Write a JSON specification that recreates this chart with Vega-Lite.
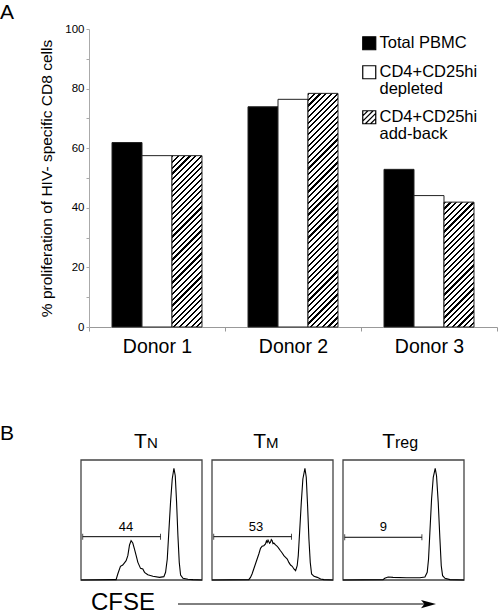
{
  "$schema": "https://vega.github.io/schema/vega-lite/v6.json",
  "padding": {"left": 0, "top": 2, "right": 0, "bottom": 0},
  "config": {
    "font": "Liberation Sans",
    "view": {"stroke": null},
    "axis": {"labelColor": "#000", "titleColor": "#000"},
    "title": {"color": "#000"},
    "legend": {"labelColor": "#000"}
  },
  "datasets": {
    "bars": [
      {"donor": "Donor 1", "series": "Total PBMC", "value": 61.9},
      {"donor": "Donor 1", "series": "CD4+CD25hi depleted", "value": 57.5},
      {"donor": "Donor 1", "series": "CD4+CD25hi add-back", "value": 57.5},
      {"donor": "Donor 2", "series": "Total PBMC", "value": 73.9},
      {"donor": "Donor 2", "series": "CD4+CD25hi depleted", "value": 76.4},
      {"donor": "Donor 2", "series": "CD4+CD25hi add-back", "value": 78.4},
      {"donor": "Donor 3", "series": "Total PBMC", "value": 52.9},
      {"donor": "Donor 3", "series": "CD4+CD25hi depleted", "value": 44.1},
      {"donor": "Donor 3", "series": "CD4+CD25hi add-back", "value": 41.9}
    ],
    "hist": [
      {"panel": "TN", "x": 0, "y": 0}, {"panel": "TN", "x": 27.6, "y": 0.3}, {"panel": "TN", "x": 29.0, "y": 0.3}, {"panel": "TN", "x": 30.4, "y": 5}, {"panel": "TN", "x": 32.6, "y": 11.4}, {"panel": "TN", "x": 34.5, "y": 12.5}, {"panel": "TN", "x": 37.3, "y": 16.1}, {"panel": "TN", "x": 38.7, "y": 20.3}, {"panel": "TN", "x": 40.1, "y": 29.2}, {"panel": "TN", "x": 41.4, "y": 32.8}, {"panel": "TN", "x": 42.8, "y": 30.8}, {"panel": "TN", "x": 44.2, "y": 25.8}, {"panel": "TN", "x": 45.6, "y": 20.3}, {"panel": "TN", "x": 47.0, "y": 14.7}, {"panel": "TN", "x": 49.2, "y": 9.7}, {"panel": "TN", "x": 51.1, "y": 9.2}, {"panel": "TN", "x": 52.5, "y": 6.4}, {"panel": "TN", "x": 55.2, "y": 4.4}, {"panel": "TN", "x": 59.4, "y": 3.1}, {"panel": "TN", "x": 64.9, "y": 2.2}, {"panel": "TN", "x": 68.5, "y": 2.8}, {"panel": "TN", "x": 69.9, "y": 6.4}, {"panel": "TN", "x": 71.3, "y": 17.5}, {"panel": "TN", "x": 72.4, "y": 36.9}, {"panel": "TN", "x": 74.0, "y": 64.7}, {"panel": "TN", "x": 75.4, "y": 84.2}, {"panel": "TN", "x": 76.8, "y": 93.1}, {"panel": "TN", "x": 77.9, "y": 86.9}, {"panel": "TN", "x": 79.0, "y": 64.7}, {"panel": "TN", "x": 80.1, "y": 36.9}, {"panel": "TN", "x": 81.2, "y": 14.7}, {"panel": "TN", "x": 82.3, "y": 4.2}, {"panel": "TN", "x": 84.3, "y": 1.4}, {"panel": "TN", "x": 88.4, "y": 0.6}, {"panel": "TN", "x": 92.5, "y": 0.3}, {"panel": "TN", "x": 100, "y": 0},
      {"panel": "TM", "x": 0, "y": 0}, {"panel": "TM", "x": 30.4, "y": 0.3}, {"panel": "TM", "x": 31.8, "y": 2.2}, {"panel": "TM", "x": 33.1, "y": 5}, {"panel": "TM", "x": 34.5, "y": 9.2}, {"panel": "TM", "x": 35.9, "y": 13.3}, {"panel": "TM", "x": 37.3, "y": 17.5}, {"panel": "TM", "x": 38.7, "y": 21.7}, {"panel": "TM", "x": 40.1, "y": 26.4}, {"panel": "TM", "x": 41.4, "y": 28.1}, {"panel": "TM", "x": 42.8, "y": 28.6}, {"panel": "TM", "x": 44.2, "y": 30}, {"panel": "TM", "x": 45.0, "y": 32.5}, {"panel": "TM", "x": 45.6, "y": 31.4}, {"panel": "TM", "x": 46.3, "y": 33.3}, {"panel": "TM", "x": 47.0, "y": 31.9}, {"panel": "TM", "x": 47.6, "y": 30.6}, {"panel": "TM", "x": 48.3, "y": 31.4}, {"panel": "TM", "x": 49.0, "y": 33.6}, {"panel": "TM", "x": 49.7, "y": 32.8}, {"panel": "TM", "x": 50.4, "y": 30.3}, {"panel": "TM", "x": 51.1, "y": 30.8}, {"panel": "TM", "x": 52.5, "y": 29.2}, {"panel": "TM", "x": 53.9, "y": 28.1}, {"panel": "TM", "x": 55.2, "y": 26.4}, {"panel": "TM", "x": 56.6, "y": 24.4}, {"panel": "TM", "x": 58.0, "y": 22.5}, {"panel": "TM", "x": 59.4, "y": 20.3}, {"panel": "TM", "x": 60.8, "y": 18.9}, {"panel": "TM", "x": 62.2, "y": 17.5}, {"panel": "TM", "x": 63.5, "y": 14.7}, {"panel": "TM", "x": 64.9, "y": 12.5}, {"panel": "TM", "x": 66.3, "y": 11.4}, {"panel": "TM", "x": 67.7, "y": 9.2}, {"panel": "TM", "x": 69.1, "y": 7.8}, {"panel": "TM", "x": 70.4, "y": 11.9}, {"panel": "TM", "x": 71.3, "y": 20.3}, {"panel": "TM", "x": 72.4, "y": 39.7}, {"panel": "TM", "x": 73.8, "y": 64.7}, {"panel": "TM", "x": 75.1, "y": 84.2}, {"panel": "TM", "x": 76.8, "y": 93.1}, {"panel": "TM", "x": 77.9, "y": 85.6}, {"panel": "TM", "x": 79.0, "y": 61.9}, {"panel": "TM", "x": 80.1, "y": 34.2}, {"panel": "TM", "x": 81.2, "y": 14.7}, {"panel": "TM", "x": 82.3, "y": 5}, {"panel": "TM", "x": 84.3, "y": 3.1}, {"panel": "TM", "x": 87.0, "y": 2.2}, {"panel": "TM", "x": 89.8, "y": 0.8}, {"panel": "TM", "x": 92.5, "y": 0.3}, {"panel": "TM", "x": 100, "y": 0},
      {"panel": "Treg", "x": 0, "y": 0}, {"panel": "Treg", "x": 33.1, "y": 0.3}, {"panel": "Treg", "x": 34.5, "y": 1.4}, {"panel": "Treg", "x": 37.3, "y": 2.5}, {"panel": "Treg", "x": 41.4, "y": 2.2}, {"panel": "Treg", "x": 52.5, "y": 1.9}, {"panel": "Treg", "x": 63.5, "y": 1.9}, {"panel": "Treg", "x": 67.7, "y": 2.5}, {"panel": "Treg", "x": 69.6, "y": 6.4}, {"panel": "Treg", "x": 70.7, "y": 17.5}, {"panel": "Treg", "x": 71.8, "y": 39.7}, {"panel": "Treg", "x": 73.2, "y": 67.5}, {"panel": "Treg", "x": 74.6, "y": 85.6}, {"panel": "Treg", "x": 76.2, "y": 93.1}, {"panel": "Treg", "x": 77.3, "y": 86.9}, {"panel": "Treg", "x": 78.7, "y": 64.7}, {"panel": "Treg", "x": 80.1, "y": 34.2}, {"panel": "Treg", "x": 81.2, "y": 11.9}, {"panel": "Treg", "x": 82.3, "y": 3.6}, {"panel": "Treg", "x": 84.3, "y": 1.4}, {"panel": "Treg", "x": 88.4, "y": 0.3}, {"panel": "Treg", "x": 100, "y": 0}
    ],
    "gates": [
      {"panel": "TN", "x1": 1.4, "x2": 65.7, "gy": 36.1, "pct": "44"},
      {"panel": "TM", "x1": 1.4, "x2": 65.7, "gy": 36.1, "pct": "53"},
      {"panel": "Treg", "x1": 1.4, "x2": 65.2, "gy": 35.6, "pct": "9"}
    ],
    "titles": [
      {"panel": "TN", "main": "T", "sub": "N"},
      {"panel": "TM", "main": "T", "sub": "M"},
      {"panel": "Treg", "main": "T", "sub": "reg"}
    ]
  },
  "spacing": 66,
  "vconcat": [
    {
      "width": 408,
      "height": 298,
      "title": {"text": "A", "anchor": "start", "frame": "group", "dx": -89, "fontSize": 21, "fontWeight": "normal", "offset": 0},
      "data": {"name": "bars"},
      "encoding": {
        "x": {"field": "donor", "type": "nominal", "scale": {"paddingInner": 0, "paddingOuter": 0},
          "axis": {"title": null, "labelAngle": 0, "labelFontSize": 19.5, "labelPadding": 6, "tickBand": "extent", "tickSize": 4, "domainColor": "#999", "tickColor": "#999"}},
        "xOffset": {"field": "series", "type": "nominal", "scale": {"domain": ["Total PBMC", "CD4+CD25hi depleted", "CD4+CD25hi add-back"], "paddingInner": 0, "paddingOuter": 0.7667}},
        "y": {"field": "value", "type": "quantitative", "scale": {"domain": [0, 100], "nice": false},
          "axis": {"values": [0, 10, 20, 30, 40, 50, 60, 70, 80, 90, 100], "labelExpr": "datum.value % 20 === 0 ? datum.label : ''", "grid": false, "tickSize": 3, "labelPadding": 2, "labelFontSize": 11.5, "domainColor": "#aaa", "tickColor": "#aaa", "title": "% proliferation of HIV- specific CD8 cells", "titleFontSize": 15.5, "titleFontWeight": "normal", "titlePadding": 10}}
      },
      "layer": [
        {
          "transform": [{"filter": "datum.series != 'CD4+CD25hi add-back'"}],
          "mark": {"type": "bar", "stroke": "#222", "strokeWidth": 1},
          "encoding": {
            "fill": {"field": "series", "type": "nominal",
              "scale": {"domain": ["Total PBMC", "CD4+CD25hi depleted", "CD4+CD25hi add-back"], "range": ["#000", "#fff", "#fff"]},
              "legend": {"title": null, "orient": "none", "legendX": 272, "legendY": 6, "symbolType": "square", "symbolSize": 169, "symbolStrokeColor": "#000", "symbolStrokeWidth": 1, "labelFontSize": 16.5, "labelLimit": 300, "labelOffset": 2, "rowPadding": 10, "labelBaseline": "top",
                "labelExpr": "datum.label == 'CD4+CD25hi depleted' ? ['CD4+CD25hi', 'depleted'] : datum.label == 'CD4+CD25hi add-back' ? ['CD4+CD25hi', 'add-back'] : datum.label",
                "encoding": {
                  "labels": {"dy": {"value": -8.5}, "lineHeight": {"value": 17}},
                  "symbols": {"stroke": {"value": "#000"}, "strokeWidth": {"value": 1.2}, "opacity": {"value": 1},
                    "shape": {"condition": {"test": "datum.value === 'CD4+CD25hi add-back'", "value": "M-1,-1H1V1H-1Z M-1,-0.2L-0.2,-1 M-1,0.6L0.6,-1 M-0.6,1L1,-0.6 M0.2,1L1,0.2"}, "value": "square"}}
                }}}
          }
        },
        {
          "transform": [{"filter": "datum.series == 'CD4+CD25hi add-back' && datum.donor == 'Donor 1'"}],
          "mark": {"type": "bar", "stroke": "#222", "strokeWidth": 1, "fill": {"gradient": "linear", "x1": 0, "y1": 0, "x2": 0.2617, "y2": 1.4949, "stops": [
            {"offset": 0, "color": "#000"}, {"offset": 0.0083, "color": "#000"}, {"offset": 0.0083, "color": "#fff"}, {"offset": 0.0217, "color": "#fff"},
            {"offset": 0.0217, "color": "#000"}, {"offset": 0.03, "color": "#000"}, {"offset": 0.03, "color": "#fff"}, {"offset": 0.0435, "color": "#fff"},
            {"offset": 0.0435, "color": "#000"}, {"offset": 0.0517, "color": "#000"}, {"offset": 0.0517, "color": "#fff"}, {"offset": 0.0652, "color": "#fff"},
            {"offset": 0.0652, "color": "#000"}, {"offset": 0.0735, "color": "#000"}, {"offset": 0.0735, "color": "#fff"}, {"offset": 0.087, "color": "#fff"},
            {"offset": 0.087, "color": "#000"}, {"offset": 0.0952, "color": "#000"}, {"offset": 0.0952, "color": "#fff"}, {"offset": 0.1087, "color": "#fff"},
            {"offset": 0.1087, "color": "#000"}, {"offset": 0.117, "color": "#000"}, {"offset": 0.117, "color": "#fff"}, {"offset": 0.1304, "color": "#fff"},
            {"offset": 0.1304, "color": "#000"}, {"offset": 0.1387, "color": "#000"}, {"offset": 0.1387, "color": "#fff"}, {"offset": 0.1522, "color": "#fff"},
            {"offset": 0.1522, "color": "#000"}, {"offset": 0.1604, "color": "#000"}, {"offset": 0.1604, "color": "#fff"}, {"offset": 0.1739, "color": "#fff"},
            {"offset": 0.1739, "color": "#000"}, {"offset": 0.1822, "color": "#000"}, {"offset": 0.1822, "color": "#fff"}, {"offset": 0.1957, "color": "#fff"},
            {"offset": 0.1957, "color": "#000"}, {"offset": 0.2039, "color": "#000"}, {"offset": 0.2039, "color": "#fff"}, {"offset": 0.2174, "color": "#fff"},
            {"offset": 0.2174, "color": "#000"}, {"offset": 0.2257, "color": "#000"}, {"offset": 0.2257, "color": "#fff"}, {"offset": 0.2391, "color": "#fff"},
            {"offset": 0.2391, "color": "#000"}, {"offset": 0.2474, "color": "#000"}, {"offset": 0.2474, "color": "#fff"}, {"offset": 0.2609, "color": "#fff"},
            {"offset": 0.2609, "color": "#000"}, {"offset": 0.2691, "color": "#000"}, {"offset": 0.2691, "color": "#fff"}, {"offset": 0.2826, "color": "#fff"},
            {"offset": 0.2826, "color": "#000"}, {"offset": 0.2909, "color": "#000"}, {"offset": 0.2909, "color": "#fff"}, {"offset": 0.3043, "color": "#fff"},
            {"offset": 0.3043, "color": "#000"}, {"offset": 0.3126, "color": "#000"}, {"offset": 0.3126, "color": "#fff"}, {"offset": 0.3261, "color": "#fff"},
            {"offset": 0.3261, "color": "#000"}, {"offset": 0.3343, "color": "#000"}, {"offset": 0.3343, "color": "#fff"}, {"offset": 0.3478, "color": "#fff"},
            {"offset": 0.3478, "color": "#000"}, {"offset": 0.3561, "color": "#000"}, {"offset": 0.3561, "color": "#fff"}, {"offset": 0.3696, "color": "#fff"},
            {"offset": 0.3696, "color": "#000"}, {"offset": 0.3778, "color": "#000"}, {"offset": 0.3778, "color": "#fff"}, {"offset": 0.3913, "color": "#fff"},
            {"offset": 0.3913, "color": "#000"}, {"offset": 0.3996, "color": "#000"}, {"offset": 0.3996, "color": "#fff"}, {"offset": 0.413, "color": "#fff"},
            {"offset": 0.413, "color": "#000"}, {"offset": 0.4213, "color": "#000"}, {"offset": 0.4213, "color": "#fff"}, {"offset": 0.4348, "color": "#fff"},
            {"offset": 0.4348, "color": "#000"}, {"offset": 0.443, "color": "#000"}, {"offset": 0.443, "color": "#fff"}, {"offset": 0.4565, "color": "#fff"},
            {"offset": 0.4565, "color": "#000"}, {"offset": 0.4648, "color": "#000"}, {"offset": 0.4648, "color": "#fff"}, {"offset": 0.4783, "color": "#fff"},
            {"offset": 0.4783, "color": "#000"}, {"offset": 0.4865, "color": "#000"}, {"offset": 0.4865, "color": "#fff"}, {"offset": 0.5, "color": "#fff"},
            {"offset": 0.5, "color": "#000"}, {"offset": 0.5083, "color": "#000"}, {"offset": 0.5083, "color": "#fff"}, {"offset": 0.5217, "color": "#fff"},
            {"offset": 0.5217, "color": "#000"}, {"offset": 0.53, "color": "#000"}, {"offset": 0.53, "color": "#fff"}, {"offset": 0.5435, "color": "#fff"},
            {"offset": 0.5435, "color": "#000"}, {"offset": 0.5517, "color": "#000"}, {"offset": 0.5517, "color": "#fff"}, {"offset": 0.5652, "color": "#fff"},
            {"offset": 0.5652, "color": "#000"}, {"offset": 0.5735, "color": "#000"}, {"offset": 0.5735, "color": "#fff"}, {"offset": 0.587, "color": "#fff"},
            {"offset": 0.587, "color": "#000"}, {"offset": 0.5952, "color": "#000"}, {"offset": 0.5952, "color": "#fff"}, {"offset": 0.6087, "color": "#fff"},
            {"offset": 0.6087, "color": "#000"}, {"offset": 0.617, "color": "#000"}, {"offset": 0.617, "color": "#fff"}, {"offset": 0.6304, "color": "#fff"},
            {"offset": 0.6304, "color": "#000"}, {"offset": 0.6387, "color": "#000"}, {"offset": 0.6387, "color": "#fff"}, {"offset": 0.6522, "color": "#fff"},
            {"offset": 0.6522, "color": "#000"}, {"offset": 0.6604, "color": "#000"}, {"offset": 0.6604, "color": "#fff"}, {"offset": 0.6739, "color": "#fff"},
            {"offset": 0.6739, "color": "#000"}, {"offset": 0.6822, "color": "#000"}, {"offset": 0.6822, "color": "#fff"}, {"offset": 0.6957, "color": "#fff"},
            {"offset": 0.6957, "color": "#000"}, {"offset": 0.7039, "color": "#000"}, {"offset": 0.7039, "color": "#fff"}, {"offset": 0.7174, "color": "#fff"},
            {"offset": 0.7174, "color": "#000"}, {"offset": 0.7257, "color": "#000"}, {"offset": 0.7257, "color": "#fff"}, {"offset": 0.7391, "color": "#fff"},
            {"offset": 0.7391, "color": "#000"}, {"offset": 0.7474, "color": "#000"}, {"offset": 0.7474, "color": "#fff"}, {"offset": 0.7609, "color": "#fff"},
            {"offset": 0.7609, "color": "#000"}, {"offset": 0.7691, "color": "#000"}, {"offset": 0.7691, "color": "#fff"}, {"offset": 0.7826, "color": "#fff"}]}}
        },
        {
          "transform": [{"filter": "datum.series == 'CD4+CD25hi add-back' && datum.donor == 'Donor 2'"}],
          "mark": {"type": "bar", "stroke": "#222", "strokeWidth": 1, "fill": {"gradient": "linear", "x1": 0, "y1": 0, "x2": 0.1427, "y2": 1.1116, "stops": [
            {"offset": 0, "color": "#000"}, {"offset": 0.0083, "color": "#000"}, {"offset": 0.0083, "color": "#fff"}, {"offset": 0.0217, "color": "#fff"},
            {"offset": 0.0217, "color": "#000"}, {"offset": 0.03, "color": "#000"}, {"offset": 0.03, "color": "#fff"}, {"offset": 0.0435, "color": "#fff"},
            {"offset": 0.0435, "color": "#000"}, {"offset": 0.0517, "color": "#000"}, {"offset": 0.0517, "color": "#fff"}, {"offset": 0.0652, "color": "#fff"},
            {"offset": 0.0652, "color": "#000"}, {"offset": 0.0735, "color": "#000"}, {"offset": 0.0735, "color": "#fff"}, {"offset": 0.087, "color": "#fff"},
            {"offset": 0.087, "color": "#000"}, {"offset": 0.0952, "color": "#000"}, {"offset": 0.0952, "color": "#fff"}, {"offset": 0.1087, "color": "#fff"},
            {"offset": 0.1087, "color": "#000"}, {"offset": 0.117, "color": "#000"}, {"offset": 0.117, "color": "#fff"}, {"offset": 0.1304, "color": "#fff"},
            {"offset": 0.1304, "color": "#000"}, {"offset": 0.1387, "color": "#000"}, {"offset": 0.1387, "color": "#fff"}, {"offset": 0.1522, "color": "#fff"},
            {"offset": 0.1522, "color": "#000"}, {"offset": 0.1604, "color": "#000"}, {"offset": 0.1604, "color": "#fff"}, {"offset": 0.1739, "color": "#fff"},
            {"offset": 0.1739, "color": "#000"}, {"offset": 0.1822, "color": "#000"}, {"offset": 0.1822, "color": "#fff"}, {"offset": 0.1957, "color": "#fff"},
            {"offset": 0.1957, "color": "#000"}, {"offset": 0.2039, "color": "#000"}, {"offset": 0.2039, "color": "#fff"}, {"offset": 0.2174, "color": "#fff"},
            {"offset": 0.2174, "color": "#000"}, {"offset": 0.2257, "color": "#000"}, {"offset": 0.2257, "color": "#fff"}, {"offset": 0.2391, "color": "#fff"},
            {"offset": 0.2391, "color": "#000"}, {"offset": 0.2474, "color": "#000"}, {"offset": 0.2474, "color": "#fff"}, {"offset": 0.2609, "color": "#fff"},
            {"offset": 0.2609, "color": "#000"}, {"offset": 0.2691, "color": "#000"}, {"offset": 0.2691, "color": "#fff"}, {"offset": 0.2826, "color": "#fff"},
            {"offset": 0.2826, "color": "#000"}, {"offset": 0.2909, "color": "#000"}, {"offset": 0.2909, "color": "#fff"}, {"offset": 0.3043, "color": "#fff"},
            {"offset": 0.3043, "color": "#000"}, {"offset": 0.3126, "color": "#000"}, {"offset": 0.3126, "color": "#fff"}, {"offset": 0.3261, "color": "#fff"},
            {"offset": 0.3261, "color": "#000"}, {"offset": 0.3343, "color": "#000"}, {"offset": 0.3343, "color": "#fff"}, {"offset": 0.3478, "color": "#fff"},
            {"offset": 0.3478, "color": "#000"}, {"offset": 0.3561, "color": "#000"}, {"offset": 0.3561, "color": "#fff"}, {"offset": 0.3696, "color": "#fff"},
            {"offset": 0.3696, "color": "#000"}, {"offset": 0.3778, "color": "#000"}, {"offset": 0.3778, "color": "#fff"}, {"offset": 0.3913, "color": "#fff"},
            {"offset": 0.3913, "color": "#000"}, {"offset": 0.3996, "color": "#000"}, {"offset": 0.3996, "color": "#fff"}, {"offset": 0.413, "color": "#fff"},
            {"offset": 0.413, "color": "#000"}, {"offset": 0.4213, "color": "#000"}, {"offset": 0.4213, "color": "#fff"}, {"offset": 0.4348, "color": "#fff"},
            {"offset": 0.4348, "color": "#000"}, {"offset": 0.443, "color": "#000"}, {"offset": 0.443, "color": "#fff"}, {"offset": 0.4565, "color": "#fff"},
            {"offset": 0.4565, "color": "#000"}, {"offset": 0.4648, "color": "#000"}, {"offset": 0.4648, "color": "#fff"}, {"offset": 0.4783, "color": "#fff"},
            {"offset": 0.4783, "color": "#000"}, {"offset": 0.4865, "color": "#000"}, {"offset": 0.4865, "color": "#fff"}, {"offset": 0.5, "color": "#fff"},
            {"offset": 0.5, "color": "#000"}, {"offset": 0.5083, "color": "#000"}, {"offset": 0.5083, "color": "#fff"}, {"offset": 0.5217, "color": "#fff"},
            {"offset": 0.5217, "color": "#000"}, {"offset": 0.53, "color": "#000"}, {"offset": 0.53, "color": "#fff"}, {"offset": 0.5435, "color": "#fff"},
            {"offset": 0.5435, "color": "#000"}, {"offset": 0.5517, "color": "#000"}, {"offset": 0.5517, "color": "#fff"}, {"offset": 0.5652, "color": "#fff"},
            {"offset": 0.5652, "color": "#000"}, {"offset": 0.5735, "color": "#000"}, {"offset": 0.5735, "color": "#fff"}, {"offset": 0.587, "color": "#fff"},
            {"offset": 0.587, "color": "#000"}, {"offset": 0.5952, "color": "#000"}, {"offset": 0.5952, "color": "#fff"}, {"offset": 0.6087, "color": "#fff"},
            {"offset": 0.6087, "color": "#000"}, {"offset": 0.617, "color": "#000"}, {"offset": 0.617, "color": "#fff"}, {"offset": 0.6304, "color": "#fff"},
            {"offset": 0.6304, "color": "#000"}, {"offset": 0.6387, "color": "#000"}, {"offset": 0.6387, "color": "#fff"}, {"offset": 0.6522, "color": "#fff"},
            {"offset": 0.6522, "color": "#000"}, {"offset": 0.6604, "color": "#000"}, {"offset": 0.6604, "color": "#fff"}, {"offset": 0.6739, "color": "#fff"},
            {"offset": 0.6739, "color": "#000"}, {"offset": 0.6822, "color": "#000"}, {"offset": 0.6822, "color": "#fff"}, {"offset": 0.6957, "color": "#fff"},
            {"offset": 0.6957, "color": "#000"}, {"offset": 0.7039, "color": "#000"}, {"offset": 0.7039, "color": "#fff"}, {"offset": 0.7174, "color": "#fff"},
            {"offset": 0.7174, "color": "#000"}, {"offset": 0.7257, "color": "#000"}, {"offset": 0.7257, "color": "#fff"}, {"offset": 0.7391, "color": "#fff"},
            {"offset": 0.7391, "color": "#000"}, {"offset": 0.7474, "color": "#000"}, {"offset": 0.7474, "color": "#fff"}, {"offset": 0.7609, "color": "#fff"},
            {"offset": 0.7609, "color": "#000"}, {"offset": 0.7691, "color": "#000"}, {"offset": 0.7691, "color": "#fff"}, {"offset": 0.7826, "color": "#fff"},
            {"offset": 0.7826, "color": "#000"}, {"offset": 0.7909, "color": "#000"}, {"offset": 0.7909, "color": "#fff"}, {"offset": 0.8043, "color": "#fff"},
            {"offset": 0.8043, "color": "#000"}, {"offset": 0.8126, "color": "#000"}, {"offset": 0.8126, "color": "#fff"}, {"offset": 0.8261, "color": "#fff"},
            {"offset": 0.8261, "color": "#000"}, {"offset": 0.8343, "color": "#000"}, {"offset": 0.8343, "color": "#fff"}, {"offset": 0.8478, "color": "#fff"},
            {"offset": 0.8478, "color": "#000"}, {"offset": 0.8561, "color": "#000"}, {"offset": 0.8561, "color": "#fff"}, {"offset": 0.8696, "color": "#fff"},
            {"offset": 0.8696, "color": "#000"}, {"offset": 0.8778, "color": "#000"}, {"offset": 0.8778, "color": "#fff"}, {"offset": 0.8913, "color": "#fff"},
            {"offset": 0.8913, "color": "#000"}, {"offset": 0.8996, "color": "#000"}, {"offset": 0.8996, "color": "#fff"}, {"offset": 0.913, "color": "#fff"},
            {"offset": 0.913, "color": "#000"}, {"offset": 0.9213, "color": "#000"}, {"offset": 0.9213, "color": "#fff"}, {"offset": 0.9348, "color": "#fff"},
            {"offset": 0.9348, "color": "#000"}, {"offset": 0.943, "color": "#000"}, {"offset": 0.943, "color": "#fff"}, {"offset": 0.9565, "color": "#fff"},
            {"offset": 0.9565, "color": "#000"}, {"offset": 0.9648, "color": "#000"}, {"offset": 0.9648, "color": "#fff"}, {"offset": 0.9783, "color": "#fff"},
            {"offset": 0.9783, "color": "#000"}, {"offset": 0.9865, "color": "#000"}, {"offset": 0.9865, "color": "#fff"}, {"offset": 1, "color": "#fff"}]}}
        },
        {
          "transform": [{"filter": "datum.series == 'CD4+CD25hi add-back' && datum.donor == 'Donor 3'"}],
          "mark": {"type": "bar", "stroke": "#222", "strokeWidth": 1, "fill": {"gradient": "linear", "x1": 0, "y1": 0, "x2": 0.4803, "y2": 1.999, "stops": [
            {"offset": 0, "color": "#000"}, {"offset": 0.0083, "color": "#000"}, {"offset": 0.0083, "color": "#fff"}, {"offset": 0.0217, "color": "#fff"},
            {"offset": 0.0217, "color": "#000"}, {"offset": 0.03, "color": "#000"}, {"offset": 0.03, "color": "#fff"}, {"offset": 0.0435, "color": "#fff"},
            {"offset": 0.0435, "color": "#000"}, {"offset": 0.0517, "color": "#000"}, {"offset": 0.0517, "color": "#fff"}, {"offset": 0.0652, "color": "#fff"},
            {"offset": 0.0652, "color": "#000"}, {"offset": 0.0735, "color": "#000"}, {"offset": 0.0735, "color": "#fff"}, {"offset": 0.087, "color": "#fff"},
            {"offset": 0.087, "color": "#000"}, {"offset": 0.0952, "color": "#000"}, {"offset": 0.0952, "color": "#fff"}, {"offset": 0.1087, "color": "#fff"},
            {"offset": 0.1087, "color": "#000"}, {"offset": 0.117, "color": "#000"}, {"offset": 0.117, "color": "#fff"}, {"offset": 0.1304, "color": "#fff"},
            {"offset": 0.1304, "color": "#000"}, {"offset": 0.1387, "color": "#000"}, {"offset": 0.1387, "color": "#fff"}, {"offset": 0.1522, "color": "#fff"},
            {"offset": 0.1522, "color": "#000"}, {"offset": 0.1604, "color": "#000"}, {"offset": 0.1604, "color": "#fff"}, {"offset": 0.1739, "color": "#fff"},
            {"offset": 0.1739, "color": "#000"}, {"offset": 0.1822, "color": "#000"}, {"offset": 0.1822, "color": "#fff"}, {"offset": 0.1957, "color": "#fff"},
            {"offset": 0.1957, "color": "#000"}, {"offset": 0.2039, "color": "#000"}, {"offset": 0.2039, "color": "#fff"}, {"offset": 0.2174, "color": "#fff"},
            {"offset": 0.2174, "color": "#000"}, {"offset": 0.2257, "color": "#000"}, {"offset": 0.2257, "color": "#fff"}, {"offset": 0.2391, "color": "#fff"},
            {"offset": 0.2391, "color": "#000"}, {"offset": 0.2474, "color": "#000"}, {"offset": 0.2474, "color": "#fff"}, {"offset": 0.2609, "color": "#fff"},
            {"offset": 0.2609, "color": "#000"}, {"offset": 0.2691, "color": "#000"}, {"offset": 0.2691, "color": "#fff"}, {"offset": 0.2826, "color": "#fff"},
            {"offset": 0.2826, "color": "#000"}, {"offset": 0.2909, "color": "#000"}, {"offset": 0.2909, "color": "#fff"}, {"offset": 0.3043, "color": "#fff"},
            {"offset": 0.3043, "color": "#000"}, {"offset": 0.3126, "color": "#000"}, {"offset": 0.3126, "color": "#fff"}, {"offset": 0.3261, "color": "#fff"},
            {"offset": 0.3261, "color": "#000"}, {"offset": 0.3343, "color": "#000"}, {"offset": 0.3343, "color": "#fff"}, {"offset": 0.3478, "color": "#fff"},
            {"offset": 0.3478, "color": "#000"}, {"offset": 0.3561, "color": "#000"}, {"offset": 0.3561, "color": "#fff"}, {"offset": 0.3696, "color": "#fff"},
            {"offset": 0.3696, "color": "#000"}, {"offset": 0.3778, "color": "#000"}, {"offset": 0.3778, "color": "#fff"}, {"offset": 0.3913, "color": "#fff"},
            {"offset": 0.3913, "color": "#000"}, {"offset": 0.3996, "color": "#000"}, {"offset": 0.3996, "color": "#fff"}, {"offset": 0.413, "color": "#fff"},
            {"offset": 0.413, "color": "#000"}, {"offset": 0.4213, "color": "#000"}, {"offset": 0.4213, "color": "#fff"}, {"offset": 0.4348, "color": "#fff"},
            {"offset": 0.4348, "color": "#000"}, {"offset": 0.443, "color": "#000"}, {"offset": 0.443, "color": "#fff"}, {"offset": 0.4565, "color": "#fff"},
            {"offset": 0.4565, "color": "#000"}, {"offset": 0.4648, "color": "#000"}, {"offset": 0.4648, "color": "#fff"}, {"offset": 0.4783, "color": "#fff"},
            {"offset": 0.4783, "color": "#000"}, {"offset": 0.4865, "color": "#000"}, {"offset": 0.4865, "color": "#fff"}, {"offset": 0.5, "color": "#fff"},
            {"offset": 0.5, "color": "#000"}, {"offset": 0.5083, "color": "#000"}, {"offset": 0.5083, "color": "#fff"}, {"offset": 0.5217, "color": "#fff"},
            {"offset": 0.5217, "color": "#000"}, {"offset": 0.53, "color": "#000"}, {"offset": 0.53, "color": "#fff"}, {"offset": 0.5435, "color": "#fff"},
            {"offset": 0.5435, "color": "#000"}, {"offset": 0.5517, "color": "#000"}, {"offset": 0.5517, "color": "#fff"}, {"offset": 0.5652, "color": "#fff"},
            {"offset": 0.5652, "color": "#000"}, {"offset": 0.5735, "color": "#000"}, {"offset": 0.5735, "color": "#fff"}, {"offset": 0.587, "color": "#fff"},
            {"offset": 0.587, "color": "#000"}, {"offset": 0.5952, "color": "#000"}, {"offset": 0.5952, "color": "#fff"}, {"offset": 0.6087, "color": "#fff"}]}}
        }
      ]
    },
    {
      "spacing": 8,
      "vconcat": [
        {
          "title": {"text": "B", "anchor": "start", "frame": "group", "dx": -89, "fontSize": 21, "fontWeight": "normal", "offset": 0, "dy": 13},
          "spacing": 10,
          "bounds": "flush",
          "hconcat": [
            {
              "width": 121, "height": 120,
              "layer": [
                {"data": {"name": "titles"}, "transform": [{"filter": "datum.panel == 'TN'"}], "mark": {"type": "rect", "fillOpacity": 0, "stroke": "#444", "strokeWidth": 1.3},
                  "encoding": {"x": {"datum": 0, "type": "quantitative", "scale": {"domain": [0, 100], "range": [-8, 113], "nice": false}, "axis": null}, "x2": {"datum": 100}, "y": {"datum": 0, "type": "quantitative", "scale": {"domain": [0, 100], "nice": false}, "axis": null}, "y2": {"datum": 100}}},
                {"data": {"name": "hist"}, "transform": [{"filter": "datum.panel == 'TN'"}], "mark": {"type": "line", "color": "#000", "strokeWidth": 1.1},
                  "encoding": {"x": {"field": "x", "type": "quantitative", "axis": null}, "y": {"field": "y", "type": "quantitative", "axis": null}}},
                {"data": {"name": "gates"}, "transform": [{"filter": "datum.panel == 'TN'"}], "mark": {"type": "rule", "color": "#000", "strokeWidth": 1},
                  "encoding": {"x": {"field": "x1", "type": "quantitative", "axis": null}, "x2": {"field": "x2"}, "y": {"field": "gy", "type": "quantitative", "axis": null}}},
                {"data": {"name": "gates"}, "transform": [{"filter": "datum.panel == 'TN'"}], "mark": {"type": "tick", "orient": "vertical", "color": "#000", "size": 6, "thickness": 1},
                  "encoding": {"x": {"field": "x1", "type": "quantitative", "axis": null}, "y": {"field": "gy", "type": "quantitative", "axis": null}}},
                {"data": {"name": "gates"}, "transform": [{"filter": "datum.panel == 'TN'"}], "mark": {"type": "tick", "orient": "vertical", "color": "#000", "size": 6, "thickness": 1},
                  "encoding": {"x": {"field": "x2", "type": "quantitative", "axis": null}, "y": {"field": "gy", "type": "quantitative", "axis": null}}},
                {"data": {"name": "gates"}, "transform": [{"filter": "datum.panel == 'TN'"}], "mark": {"type": "text", "align": "left", "baseline": "alphabetic", "dx": 36, "dy": -6, "fontSize": 13},
                  "encoding": {"x": {"field": "x1", "type": "quantitative", "axis": null}, "y": {"field": "gy", "type": "quantitative", "axis": null}, "text": {"field": "pct"}}},
                {"data": {"name": "titles"}, "transform": [{"filter": "datum.panel == 'TN'"}], "mark": {"type": "text", "align": "right", "baseline": "alphabetic", "fontSize": 21},
                  "encoding": {"x": {"datum": 54.5, "type": "quantitative", "axis": null}, "y": {"datum": 110, "type": "quantitative", "axis": null}, "text": {"field": "main"}}},
                {"data": {"name": "titles"}, "transform": [{"filter": "datum.panel == 'TN'"}], "mark": {"type": "text", "align": "left", "baseline": "alphabetic", "fontSize": 15},
                  "encoding": {"x": {"datum": 54.5, "type": "quantitative", "axis": null}, "y": {"datum": 110, "type": "quantitative", "axis": null}, "text": {"field": "sub"}}}
              ]
            },
            {
              "width": 121, "height": 120,
              "layer": [
                {"data": {"name": "titles"}, "transform": [{"filter": "datum.panel == 'TM'"}], "mark": {"type": "rect", "fillOpacity": 0, "stroke": "#444", "strokeWidth": 1.3},
                  "encoding": {"x": {"datum": 0, "type": "quantitative", "scale": {"domain": [0, 100], "range": [-8, 113], "nice": false}, "axis": null}, "x2": {"datum": 100}, "y": {"datum": 0, "type": "quantitative", "scale": {"domain": [0, 100], "nice": false}, "axis": null}, "y2": {"datum": 100}}},
                {"data": {"name": "hist"}, "transform": [{"filter": "datum.panel == 'TM'"}], "mark": {"type": "line", "color": "#000", "strokeWidth": 1.1},
                  "encoding": {"x": {"field": "x", "type": "quantitative", "axis": null}, "y": {"field": "y", "type": "quantitative", "axis": null}}},
                {"data": {"name": "gates"}, "transform": [{"filter": "datum.panel == 'TM'"}], "mark": {"type": "rule", "color": "#000", "strokeWidth": 1},
                  "encoding": {"x": {"field": "x1", "type": "quantitative", "axis": null}, "x2": {"field": "x2"}, "y": {"field": "gy", "type": "quantitative", "axis": null}}},
                {"data": {"name": "gates"}, "transform": [{"filter": "datum.panel == 'TM'"}], "mark": {"type": "tick", "orient": "vertical", "color": "#000", "size": 6, "thickness": 1},
                  "encoding": {"x": {"field": "x1", "type": "quantitative", "axis": null}, "y": {"field": "gy", "type": "quantitative", "axis": null}}},
                {"data": {"name": "gates"}, "transform": [{"filter": "datum.panel == 'TM'"}], "mark": {"type": "tick", "orient": "vertical", "color": "#000", "size": 6, "thickness": 1},
                  "encoding": {"x": {"field": "x2", "type": "quantitative", "axis": null}, "y": {"field": "gy", "type": "quantitative", "axis": null}}},
                {"data": {"name": "gates"}, "transform": [{"filter": "datum.panel == 'TM'"}], "mark": {"type": "text", "align": "left", "baseline": "alphabetic", "dx": 35, "dy": -6, "fontSize": 13},
                  "encoding": {"x": {"field": "x1", "type": "quantitative", "axis": null}, "y": {"field": "gy", "type": "quantitative", "axis": null}, "text": {"field": "pct"}}},
                {"data": {"name": "titles"}, "transform": [{"filter": "datum.panel == 'TM'"}], "mark": {"type": "text", "align": "right", "baseline": "alphabetic", "fontSize": 21},
                  "encoding": {"x": {"datum": 44.6, "type": "quantitative", "axis": null}, "y": {"datum": 110, "type": "quantitative", "axis": null}, "text": {"field": "main"}}},
                {"data": {"name": "titles"}, "transform": [{"filter": "datum.panel == 'TM'"}], "mark": {"type": "text", "align": "left", "baseline": "alphabetic", "fontSize": 15},
                  "encoding": {"x": {"datum": 44.6, "type": "quantitative", "axis": null}, "y": {"datum": 110, "type": "quantitative", "axis": null}, "text": {"field": "sub"}}}
              ]
            },
            {
              "width": 121, "height": 120,
              "layer": [
                {"data": {"name": "titles"}, "transform": [{"filter": "datum.panel == 'Treg'"}], "mark": {"type": "rect", "fillOpacity": 0, "stroke": "#444", "strokeWidth": 1.3},
                  "encoding": {"x": {"datum": 0, "type": "quantitative", "scale": {"domain": [0, 100], "range": [-8, 113], "nice": false}, "axis": null}, "x2": {"datum": 100}, "y": {"datum": 0, "type": "quantitative", "scale": {"domain": [0, 100], "nice": false}, "axis": null}, "y2": {"datum": 100}}},
                {"data": {"name": "hist"}, "transform": [{"filter": "datum.panel == 'Treg'"}], "mark": {"type": "line", "color": "#000", "strokeWidth": 1.1},
                  "encoding": {"x": {"field": "x", "type": "quantitative", "axis": null}, "y": {"field": "y", "type": "quantitative", "axis": null}}},
                {"data": {"name": "gates"}, "transform": [{"filter": "datum.panel == 'Treg'"}], "mark": {"type": "rule", "color": "#000", "strokeWidth": 1},
                  "encoding": {"x": {"field": "x1", "type": "quantitative", "axis": null}, "x2": {"field": "x2"}, "y": {"field": "gy", "type": "quantitative", "axis": null}}},
                {"data": {"name": "gates"}, "transform": [{"filter": "datum.panel == 'Treg'"}], "mark": {"type": "tick", "orient": "vertical", "color": "#000", "size": 6, "thickness": 1},
                  "encoding": {"x": {"field": "x1", "type": "quantitative", "axis": null}, "y": {"field": "gy", "type": "quantitative", "axis": null}}},
                {"data": {"name": "gates"}, "transform": [{"filter": "datum.panel == 'Treg'"}], "mark": {"type": "tick", "orient": "vertical", "color": "#000", "size": 6, "thickness": 1},
                  "encoding": {"x": {"field": "x2", "type": "quantitative", "axis": null}, "y": {"field": "gy", "type": "quantitative", "axis": null}}},
                {"data": {"name": "gates"}, "transform": [{"filter": "datum.panel == 'Treg'"}], "mark": {"type": "text", "align": "left", "baseline": "alphabetic", "dx": 35, "dy": -6, "fontSize": 13},
                  "encoding": {"x": {"field": "x1", "type": "quantitative", "axis": null}, "y": {"field": "gy", "type": "quantitative", "axis": null}, "text": {"field": "pct"}}},
                {"data": {"name": "titles"}, "transform": [{"filter": "datum.panel == 'Treg'"}], "mark": {"type": "text", "align": "right", "baseline": "alphabetic", "fontSize": 21},
                  "encoding": {"x": {"datum": 43.0, "type": "quantitative", "axis": null}, "y": {"datum": 110, "type": "quantitative", "axis": null}, "text": {"field": "main"}}},
                {"data": {"name": "titles"}, "transform": [{"filter": "datum.panel == 'Treg'"}], "mark": {"type": "text", "align": "left", "baseline": "alphabetic", "fontSize": 16},
                  "encoding": {"x": {"datum": 43.0, "type": "quantitative", "axis": null}, "y": {"datum": 110, "type": "quantitative", "axis": null}, "text": {"field": "sub"}}}
              ]
            }
          ]
        },
        {
          "width": 360,
          "height": 20,
          "data": {"values": [{"label": "CFSE"}]},
          "layer": [
            {"mark": {"type": "text", "align": "left", "baseline": "alphabetic", "fontSize": 24},
              "encoding": {"x": {"datum": 2, "type": "quantitative", "scale": {"domain": [0, 360], "nice": false, "zero": false}, "axis": null}, "y": {"datum": 2, "type": "quantitative", "scale": {"domain": [0, 20], "nice": false}, "axis": null}, "text": {"field": "label"}}},
            {"mark": {"type": "rule", "color": "#000", "strokeWidth": 1},
              "encoding": {"x": {"datum": 89, "type": "quantitative", "axis": null}, "x2": {"datum": 337}, "y": {"datum": 8, "type": "quantitative", "axis": null}}},
            {"mark": {"type": "point", "shape": "M -1 -0.55 L 1 0 L -1 0.55 L -0.55 0 Z", "filled": true, "color": "#000", "opacity": 1, "size": 225},
              "encoding": {"x": {"datum": 339.5, "type": "quantitative", "axis": null}, "y": {"datum": 8, "type": "quantitative", "axis": null}}}
          ]
        }
      ]
    }
  ]
}
